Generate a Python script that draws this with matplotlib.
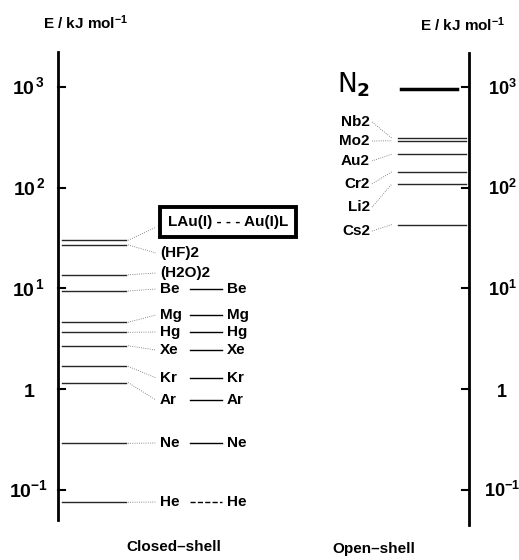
import numpy as np
import matplotlib
matplotlib.use('Agg')
import matplotlib.pyplot as plt

plt.rcParams['font.family'] = ['Liberation Sans', 'DejaVu Sans']
plt.rcParams['font.weight'] = 'bold'
plt.rcParams['mathtext.fontset'] = 'custom'
plt.rcParams['mathtext.rm'] = 'Liberation Sans:bold'
plt.rcParams['mathtext.it'] = 'Liberation Sans:bold:italic'
plt.rcParams['mathtext.bf'] = 'Liberation Sans:bold'

# closed-shell pairs, E in kJ/mol
closed_names = ['LAu(I)', '(HF)2', '(H2O)2', 'Be', 'Mg', 'Hg', 'Xe', 'Kr', 'Ar', 'Ne', 'He']
closed_E = [30, 27, 13.6, 9.4, 4.6, 3.66, 2.69, 1.68, 1.16, 0.289, 0.075]
# open-shell dimers
open_names = ['Nb2', 'Mo2', 'Au2', 'Cr2', 'Li2', 'Cs2']
open_E = [309, 292, 215, 144, 109, 43]
n2_E = 950

ticks = [0.1, 1, 10, 100, 1000]
left_ticklabels = [r'10$^{-1}$', '1', r'10$^{\,1}$', r'10$^{\,2}$', r'10$^{\,3}$']
right_ticklabels = [r'10$^{-1}$', '1', r'10$^{1}$', r'10$^{2}$', r'10$^{3}$']

# layout: where the labels sit (in energy units, so they follow the log axis)
closed_lab_y = [45.5, 22.4, 14.2, 9.84, 5.43, 3.68, 2.44, 1.29, 0.777, 0.291, 0.0755]
closed_seg = [None, None, None, '-', '-', '-', '-', '-', '-', '-', '--']
open_lab_y = [448, 290, 184, 109, 64, 37]

fig = plt.figure(figsize=(5.19, 5.60), dpi=100)
ax = fig.add_axes([0, 0, 1, 1])
ax.set_yscale('log')
ax.set_xlim(0, 519)
ax.set_ylim(10**-1.698, 10**3.863)
ax.axis('off')

# the two energy axes
ax.plot([58, 58], [0.05, 2222], color='k', lw=2)
ax.plot([469, 469], [0.0446, 2170], color='k', lw=2)
for t, ll, rl in zip(ticks, left_ticklabels, right_ticklabels):
    ax.plot([58, 65], [t, t], color='k', lw=1.5)
    ax.plot([462, 469], [t, t], color='k', lw=1.5)
    ax.annotate(ll, (29, t), xytext=(0, -5.5), textcoords='offset points',
                ha='center', va='baseline', fontsize=14)
    ax.annotate(rl, (502, t), xytext=(0, -5.5), textcoords='offset points',
                ha='center', va='baseline', fontsize=13)

# closed-shell levels
for name, e, ly, seg in zip(closed_names, closed_E, closed_lab_y, closed_seg):
    ax.plot([62, 126], [e, e], color='0.15', lw=1.0)
    if name == 'LAu(I)':
        ax.plot([128, 155], [e, 40], color='0.4', lw=0.6, ls=':')
        ax.text(228, ly, 'LAu(I) - - - Au(I)L', ha='center', va='center', fontsize=11,
                bbox=dict(boxstyle='square,pad=0.5', fc='white', ec='k', lw=2.8))
        continue
    ax.plot([128, 156], [e, ly], color='0.4', lw=0.6, ls=':')
    ax.text(160, ly, name, ha='left', va='center', fontsize=11)
    if seg is not None:
        ax.plot([190, 222], [ly, ly], color='k', lw=1.0, ls=seg)
        ax.text(227, ly, name, ha='left', va='center', fontsize=11)

# open-shell levels
ax.plot([401, 457], [n2_E, n2_E], color='k', lw=2.5)
ax.text(337, 1045, r'N$_2$', ha='left', va='center', fontsize=19,
        family='DejaVu Sans', weight='normal', math_fontfamily='dejavusans')
for name, e, ly in zip(open_names, open_E, open_lab_y):
    ax.plot([398, 466], [e, e], color='0.15', lw=1.0)
    ax.plot([372, 392], [ly, e], color='0.4', lw=0.6, ls=':')
    ax.text(370, ly, name, ha='right', va='center', fontsize=11)

ax.text(86, 4313, r'E / kJ mol$^{-1}$', ha='center', va='center', fontsize=11)
ax.text(463, 4120, r'E / kJ mol$^{-1}$', ha='center', va='center', fontsize=11)
ax.text(174, 0.027, 'Closed\u2013shell', ha='center', va='center', fontsize=11)
ax.text(374, 0.0258, 'Open\u2013shell', ha='center', va='center', fontsize=11)

fig.savefig('out.png', dpi=100)
